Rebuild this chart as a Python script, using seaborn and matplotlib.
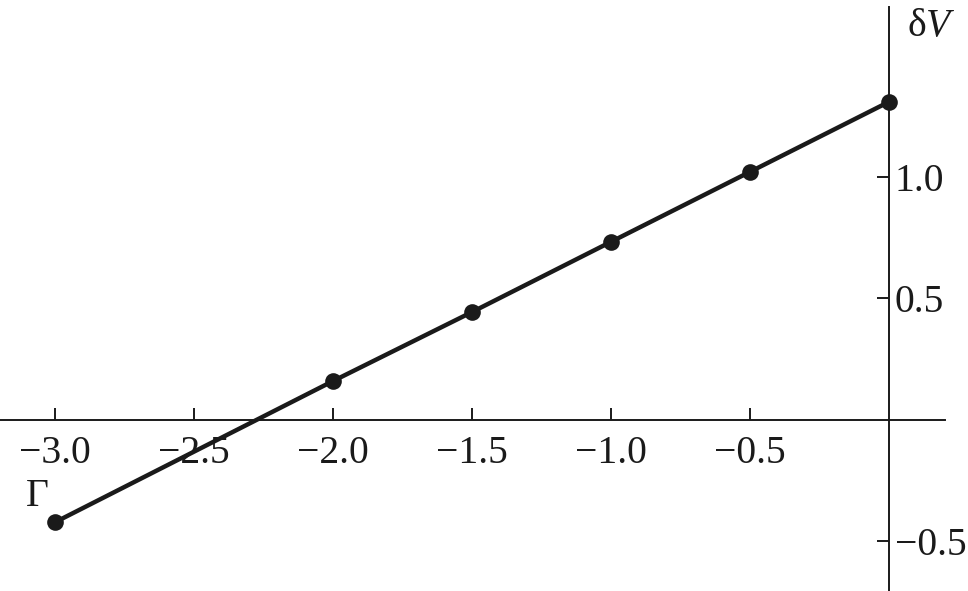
import matplotlib
matplotlib.use("Agg")
import matplotlib.pyplot as plt
import seaborn as sns
import pandas as pd

# data
gamma = [-3.0, -2.0, -1.5, -1.0, -0.5, 0.0]
delta_v = [-0.421, 0.160, 0.444, 0.733, 1.021, 1.309]
xticks = [-3.0, -2.5, -2.0, -1.5, -1.0, -0.5]
yticks = [-0.5, 0.5, 1.0]

sns.set_style("white")
plt.rcParams['font.family'] = ['Liberation Serif', 'DejaVu Serif']
plt.rcParams['mathtext.fontset'] = 'custom'
plt.rcParams['mathtext.rm'] = 'Liberation Serif'
plt.rcParams['mathtext.it'] = 'Liberation Serif:italic'
plt.rcParams['axes.unicode_minus'] = True

df = pd.DataFrame({"gamma": gamma, "dv": delta_v})

fig = plt.figure(figsize=(9.68, 5.91), dpi=100)
ax = fig.add_axes([0, 0, 1, 1])
sns.lineplot(data=df, x="gamma", y="dv", ax=ax, color="#1a1a1a", linewidth=3.2,
             marker="o", markersize=12, markeredgewidth=0, zorder=5)

ax.set_xlim(-3.198, 0.284)
ax.set_ylim(-0.704, 1.728)
ax.set_xlabel("")
ax.set_ylabel("")

for s in ["top", "left"]:
    ax.spines[s].set_visible(False)
ax.spines["bottom"].set_position(("data", 0))
ax.spines["right"].set_position(("data", 0))
ax.spines["bottom"].set_bounds(-3.198, 0.201)
ax.spines["right"].set_bounds(-0.704, 1.70)
for s in ["bottom", "right"]:
    ax.spines[s].set_linewidth(1.4)
    ax.spines[s].set_color("#1a1a1a")

ax.yaxis.tick_right()
ax.set_xticks(xticks)
ax.set_xticklabels([f"{t:.1f}".replace("-", "\u2212") for t in xticks])
ax.set_yticks(yticks)
ax.set_yticklabels([f"{t:.1f}".replace("-", "\u2212") for t in yticks])
ax.tick_params(axis="x", bottom=True, top=False, direction="in", length=8.6, width=1.4,
               color="#1a1a1a", labelsize=28.5, pad=11, labelcolor="#1a1a1a")
ax.tick_params(axis="y", right=True, left=False, direction="in", length=8.6, width=1.4,
               color="#1a1a1a", labelsize=28.5, pad=4, labelcolor="#1a1a1a")
ax.patch.set_alpha(0)
ax.grid(False)

ax.text(-3.065, -0.317, "\u0393", fontsize=28.5, ha="center", va="center", color="#1a1a1a")
ax.text(0.151, 1.621, r"$\mathrm{\delta}V$", fontsize=28.5, ha="center", va="center", color="#1a1a1a")

fig.savefig("out.png", dpi=100)
